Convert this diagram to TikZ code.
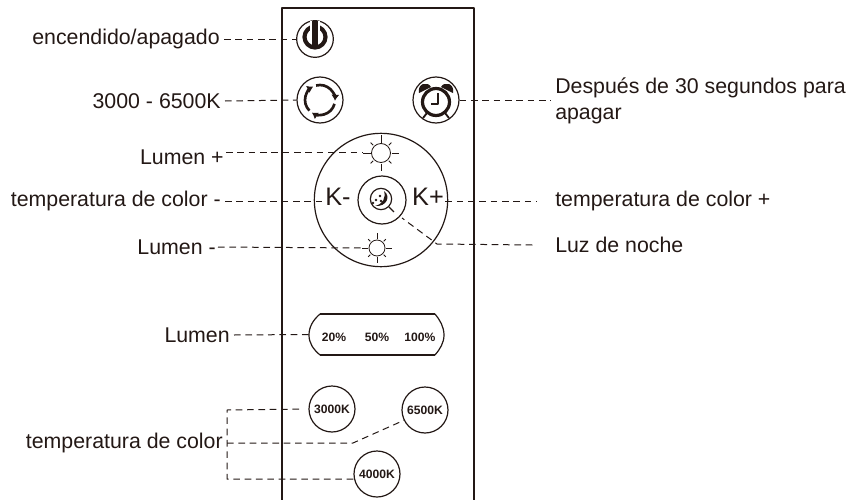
\documentclass[tikz,border=0pt]{standalone}
\usepackage{fontspec}
\setmainfont{Liberation Sans}
\usetikzlibrary{arrows.meta,positioning,calc}
\definecolor{ink}{HTML}{231815}
\tikzset{
  lead/.style={draw=ink,line width=.75pt,dash pattern=on 5pt off 3.5pt},
  lbl/.style={text=ink,font=\fontsize{16}{19.5}\selectfont,inner sep=3pt},
  btn/.style={circle,draw=ink,line width=.9pt,inner sep=0pt,minimum size=34.5pt},
  tiny/.style={text=ink,font=\fontsize{9.1}{10}\selectfont\bfseries,inner sep=0pt},
  sunpic/.pic={
    \draw[ink,line width=.6pt] (0,0) circle (#1);
    \foreach \a in {0,90,180,270} {
      \draw[ink,line width=.6pt] (\a:#1+1) -- (\a:#1*1.9);
    }
    \foreach \a in {45,135,225,315} {
      \draw[ink,line width=.6pt] (\a:#1+1.5) -- (\a:#1*1.55);
    }
  }
}
\begin{document}
\begin{tikzpicture}[x=.75pt,y=-.75pt,line join=bevel]
\useasboundingbox (0,0) rectangle (858,500);
\draw[ink,line width=.9pt] (282,500) -- (282,8) -- (474,8) -- (474,500);

\node[btn,minimum size=27.5pt] at (315,39) (btnPower) {};
\node[btn] at (320,100) (btnCycle) {};
\node[btn] at (436,100) (btnAlarm) {};
\node[circle,draw=ink,line width=.9pt,inner sep=0pt,minimum size=100pt] at (381,200) (wheel) {};
\node[btn,minimum size=36pt] at (382,200) (btnNight) {};
\node[circle,draw=ink,line width=.9pt,inner sep=0pt,minimum size=16pt] at (381,199) (iconMoon) {};
\node[circle,inner sep=0pt,minimum size=27pt] at (381,153) (sunTop) {};
\node[circle,inner sep=0pt,minimum size=22pt] at (377,248) (sunBot) {};
\node[text=ink,font=\fontsize{19}{22}\selectfont,inner sep=1pt] at (338,197) (keyMinus) {K-};
\node[text=ink,font=\fontsize{19}{22}\selectfont,inner sep=1pt] at (428,197) (keyPlus) {K+};
\node[inner sep=0pt,minimum width=101pt,minimum height=31pt] at (376.5,334.5) (btnLumen) {};
\node[tiny] at (334,337) (pct20) {20\%};
\node[tiny] at (377,337) (pct50) {50\%};
\node[tiny] at (420,337) (pct100) {100\%};
\node[btn,tiny] at (332,409) (btn3000) {3000K};
\node[btn,tiny] at (425,410) (btn6500) {6500K};
\node[btn,tiny] at (377,474) (btn4000) {4000K};

\node[lbl,anchor=east] at (224,39) (lblPower) {encendido/apagado};
\node[lbl,anchor=east] at (225,101) (lblRange) {3000 - 6500K};
\node[lbl,anchor=east] at (228,157) (lblPlus) {Lumen +};
\node[lbl,anchor=east] at (225,201) (lblCoolDown) {temperatura de color -};
\node[lbl,anchor=east] at (220,247) (lblMinus) {Lumen -};
\node[lbl,anchor=east] at (234,335) (lblLumen) {Lumen};
\node[lbl,anchor=east] at (227,443) (lblColor) {temperatura de color};
\node[lbl,anchor=west,align=left] at (551,101) (lblTimer) {Después de 30 segundos para\\apagar};
\node[lbl,anchor=west] at (551,201) (lblCoolUp) {temperatura de color +};
\node[lbl,anchor=west] at (551,245) (lblNight) {Luz de noche};

\coordinate (bendPlus) at (226,152);
\coordinate (bendMinus) at (218,247);
\coordinate (bendNight) at (437,244);
\coordinate (endNight) at (402,218);
\coordinate (bendTop) at (227,410);
\coordinate (bendBot) at (227,479);
\coordinate (bendMid) at (353,443);

\draw[lead] (lblPower.east) -- (btnPower.west);
\draw[lead] (lblRange.east) -- (btnCycle.west);
\draw[lead] (btnAlarm.east) -- (lblTimer.west |- btnAlarm.east);
\draw[lead] (bendPlus) -- (sunTop.west |- bendPlus);
\draw[lead] (lblCoolDown.east) -- (keyMinus.west |- lblCoolDown.east);
\draw[lead] (keyPlus.east |- lblCoolUp.west) -- ([xshift=-11]lblCoolUp.west);
\draw[lead] (bendMinus) -- (sunBot.west);
\draw[lead] ([xshift=-14]lblNight.west) -- (bendNight) -- (endNight);
\draw[lead] (lblLumen.east) -- (btnLumen.west);
\draw[lead,shorten <=7pt] (btn3000.west) -- (bendTop) -- (bendBot) -- (btn4000.west |- bendBot);
\draw[lead] (lblColor.east) -- (bendMid) -- (btn6500.206);

\pic at (sunTop) {sunpic=9.5};
\pic at (sunBot) {sunpic=8};

% power icon
\draw[ink,line width=3.1pt] ($(btnPower)+(0,-2)$) circle (10.5);
\draw[white,line width=7.5pt] ($(btnPower)+(0,-18)$) -- ($(btnPower)+(0,-3)$);
\draw[ink,line width=5pt] ($(btnPower)+(0,-18)$) -- ($(btnPower)+(0,7)$);

% cycle icon
\foreach \a in {15,135,255} {
  \draw[ink,line width=2pt,-{Latex[length=4.5pt,width=6pt]}] ($(btnCycle)+(\a:15)$) arc (\a:\a+108:15);
}

% alarm icon
\draw[ink,line width=2.4pt] ($(btnAlarm)+(0,2)$) circle (13.5);
\fill[ink] ($(btnAlarm)+(-17,-7)$) .. controls ($(btnAlarm)+(-19,-17)$) and ($(btnAlarm)+(-8,-19)$) .. ($(btnAlarm)+(-5,-13)$) -- cycle;
\fill[ink] ($(btnAlarm)+(17,-7)$) .. controls ($(btnAlarm)+(19,-17)$) and ($(btnAlarm)+(8,-19)$) .. ($(btnAlarm)+(5,-13)$) -- cycle;
\draw[ink,line width=1.4pt] ($(btnAlarm)+(-9,13)$) -- ($(btnAlarm)+(-13,18)$);
\draw[ink,line width=1.4pt] ($(btnAlarm)+(9,13)$) -- ($(btnAlarm)+(13,18)$);
\draw[ink,line width=.9pt] ($(btnAlarm)+(2,-7)$) -- ($(btnAlarm)+(2,4)$) -- ($(btnAlarm)+(-5,4)$);

% night icon
\fill[ink] ($(iconMoon)+(3,-8)$) .. controls ($(iconMoon)+(10,-3)$) and ($(iconMoon)+(6,8)$) .. ($(iconMoon)+(-6,7)$) .. controls ($(iconMoon)+(2,5)$) and ($(iconMoon)+(5,-1)$) .. cycle;
\foreach \x/\y in {-1/-3,-5/1,-8/4,0/2} {
  \fill[ink] ($(iconMoon)+(\x,\y)$) circle (1.3);
}
\draw[ink,line width=.9pt] (iconMoon.-45) -- ($(iconMoon.-45)+(5,5)$);

% lumen bar
\draw[ink,line width=1.4pt] (320,314) -- (435,314);
\draw[ink,line width=1.4pt] (320,355) -- (435,355);
\draw[ink,line width=.9pt] (320,314) .. controls (313,320) and (309,327) .. (309,335) .. controls (309,343) and (313,349) .. (320,355);
\draw[ink,line width=.9pt] (435,314) .. controls (440,320) and (444,327) .. (444,335) .. controls (444,343) and (440,349) .. (435,355);
\end{tikzpicture}
\end{document}
